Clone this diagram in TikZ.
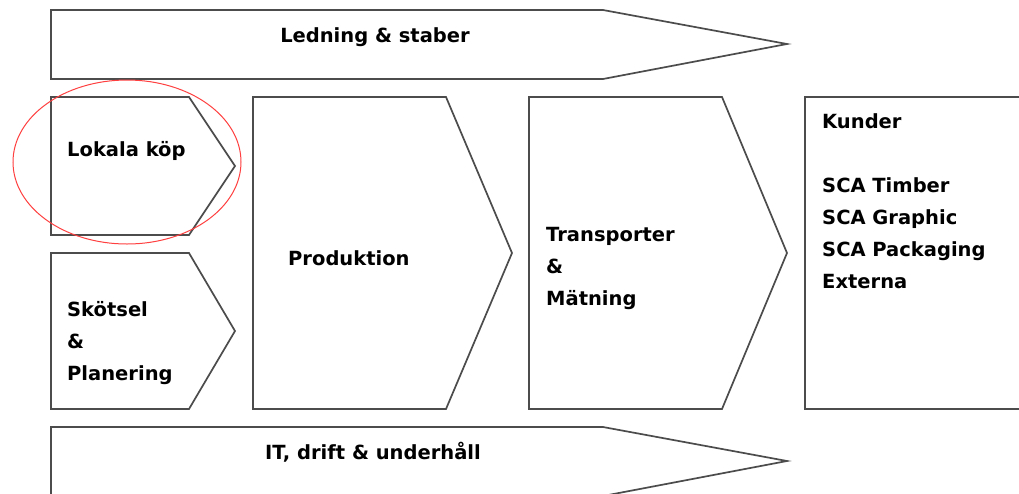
\documentclass[tikz,border=0pt]{standalone}
\usepackage{fontspec}
\setmainfont{DejaVu Sans}
\begin{document}
\begin{tikzpicture}[x=1pt,y=-1pt,
  shapeline/.style={draw=black!70,line width=1.7pt,line join=miter},
  lbl/.style={font=\bfseries\fontsize{19.5}{32}\selectfont,text=black,inner sep=0pt,align=left},
  ring/.style={draw=red!75,line width=1pt}]
\useasboundingbox (0,0) rectangle (1019,493);
\fill[white] (0,0) rectangle (1019,493);
% top band
\draw[shapeline] (51,10) -- (603,10) -- (787,44) -- (603,79) -- (51,79) -- cycle;
% bottom band
\draw[shapeline] (51,427) -- (603,427) -- (787,461) -- (603,496) -- (51,496) -- cycle;
% small chevrons on the left
\draw[shapeline] (51,97) -- (189,97) -- (235,166) -- (189,235) -- (51,235) -- cycle;
\draw[shapeline] (51,253) -- (189,253) -- (235,331) -- (189,409) -- (51,409) -- cycle;
% main chevrons
\draw[shapeline] (253,97) -- (446,97) -- (512,253) -- (446,409) -- (253,409) -- cycle;
\draw[shapeline] (529,97) -- (722,97) -- (787,253) -- (722,409) -- (529,409) -- cycle;
% customer box
\draw[shapeline] (1030,97) -- (805,97) -- (805,409) -- (1030,409);
% highlight ring
\draw[ring] (127,162) ellipse [x radius=114pt, y radius=82pt];
% labels
\node[lbl,anchor=center] (ledning) at (375,37) {Ledning \& staber};
\node[lbl,anchor=west] (lokala) at (67,151) {Lokala köp};
\node[lbl,anchor=west] (prod) at (288,258) {Produktion};
\node[lbl,anchor=north west] (trans) at (546,227) {Transporter\\\&\\Mätning};
\node[lbl,anchor=north west] (skotsel) at (67,301) {Skötsel\\\&\\Planering};
\node[lbl,anchor=north west] (kunder) at (822,113) {Kunder\\[32pt]SCA Timber\\SCA Graphic\\SCA Packaging\\Externa};
\node[lbl,anchor=center] (it) at (373,452) {IT, drift \& underhåll};
\end{tikzpicture}
\end{document}
